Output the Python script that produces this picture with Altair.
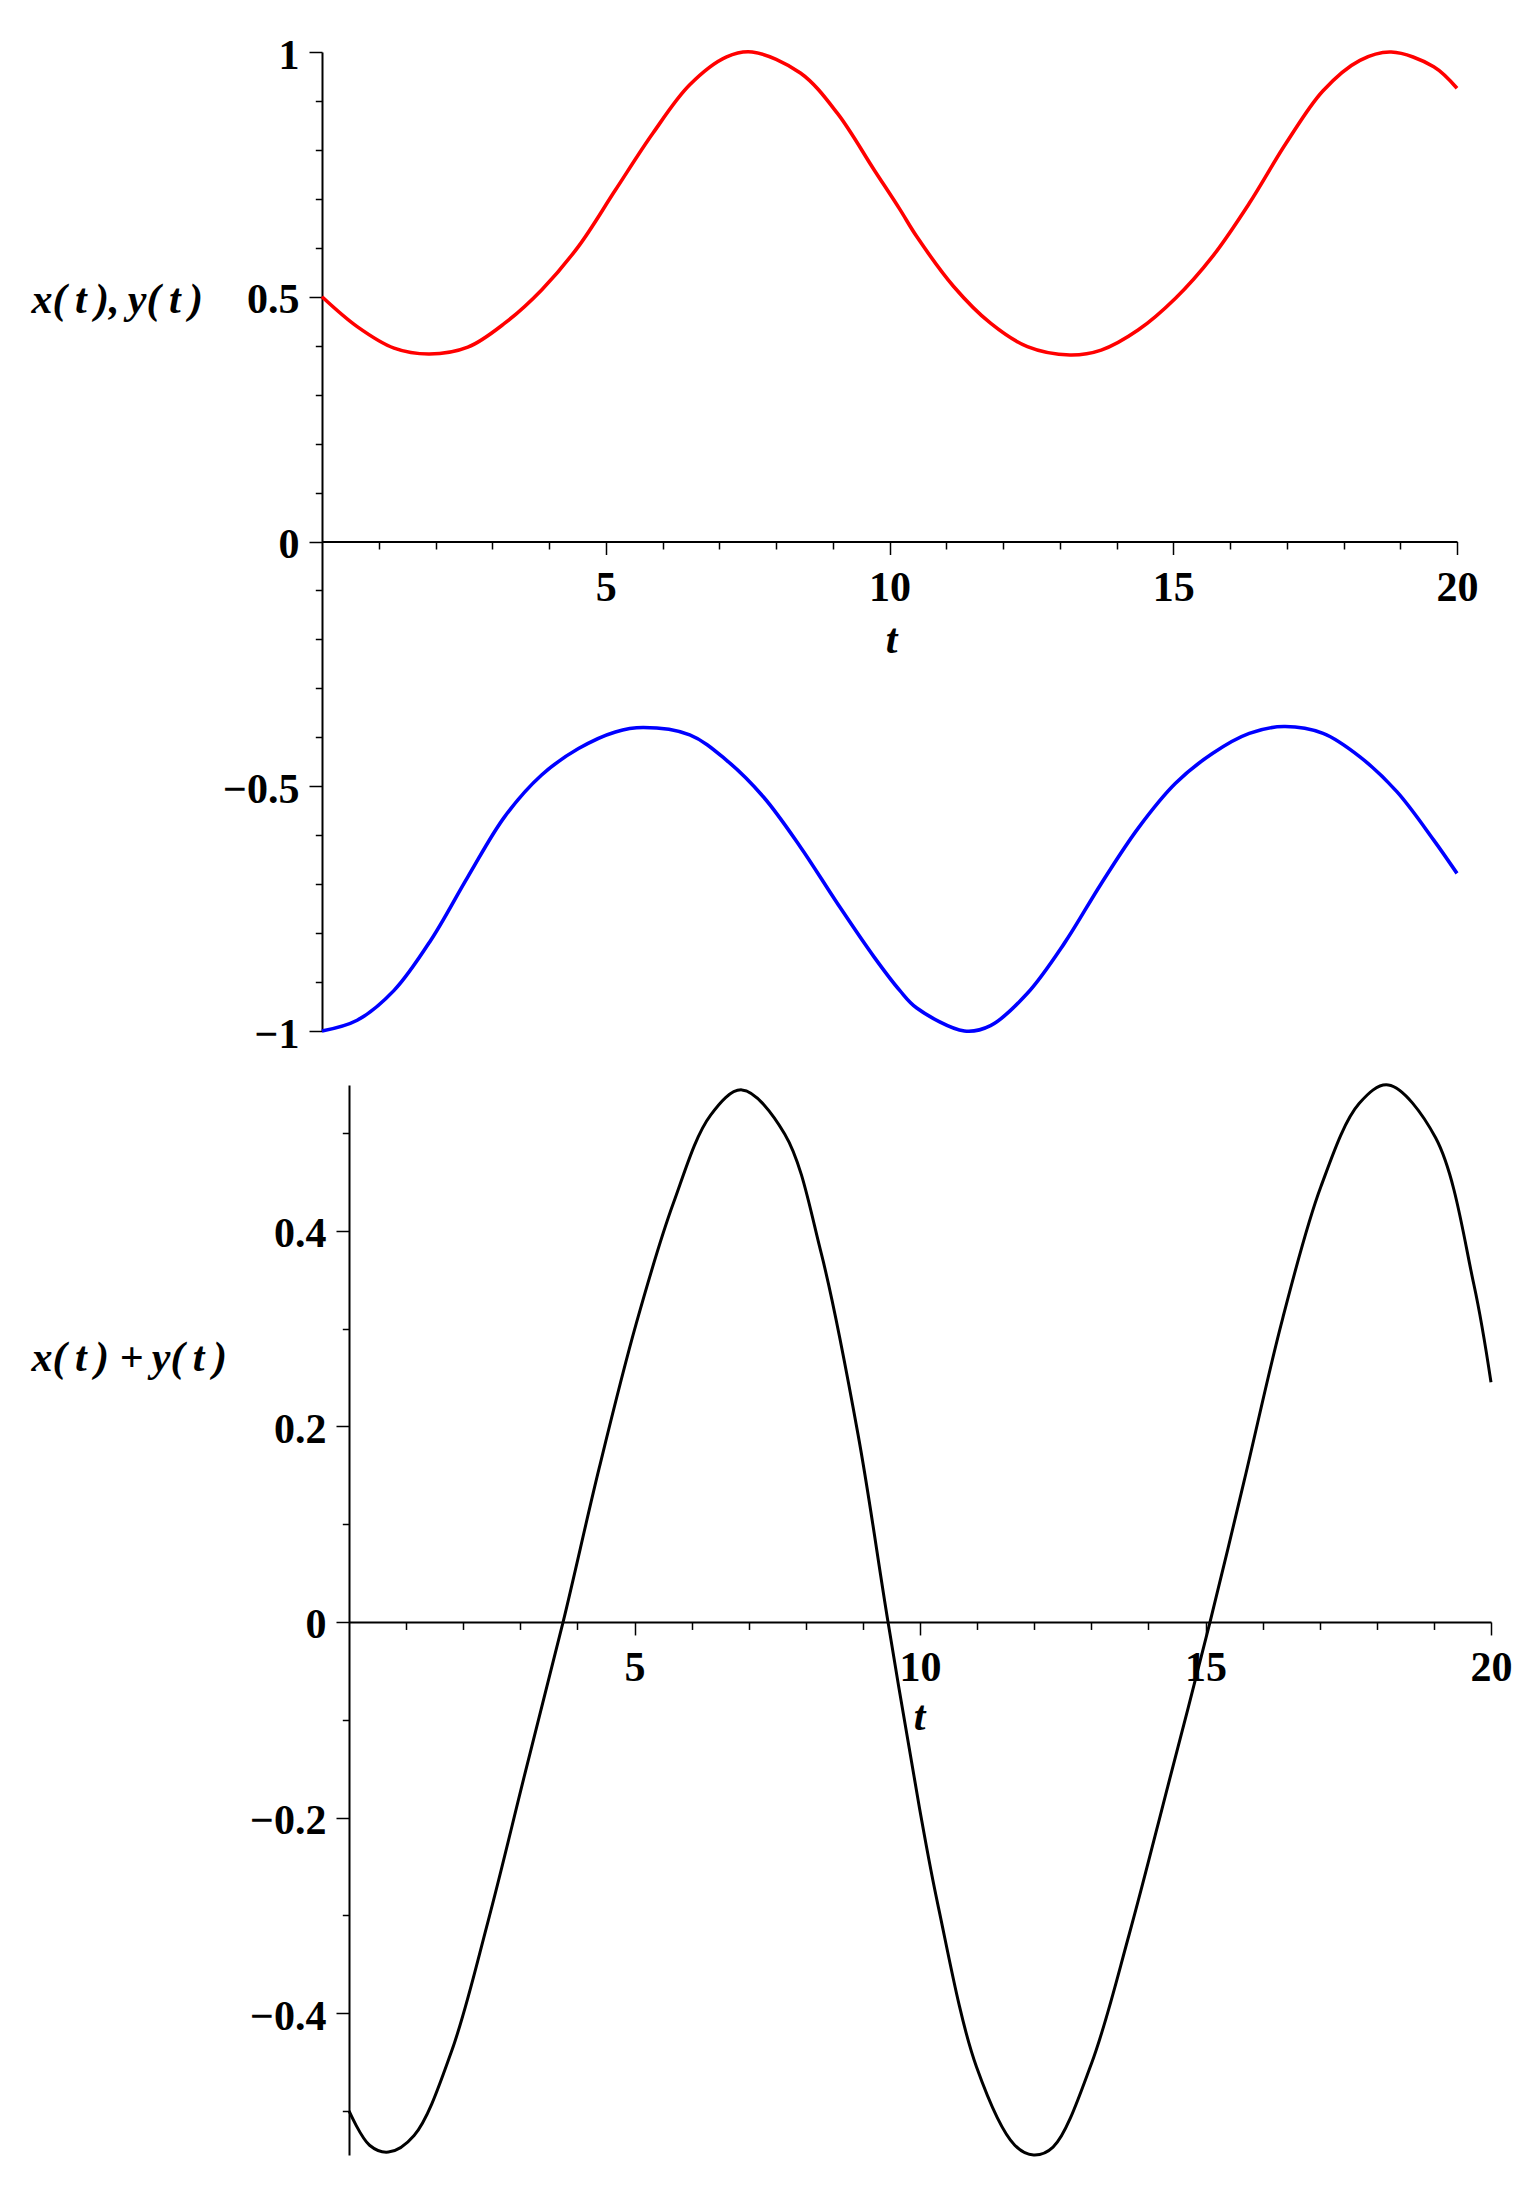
import altair as alt
import pandas as pd

# ---- data ----
# x(t) (red curve, upper panel)
t_x = [0.0, 0.62, 1.27, 1.89, 2.57, 3.22, 3.87, 4.52, 5.17, 5.83, 6.48, 7.13, 7.58, 8.43, 9.08, 9.73,
       10.18, 10.48, 11.13, 11.78, 12.43, 13.18, 13.73, 14.38, 15.04, 15.69, 16.34, 16.99, 17.64, 18.29,
       18.84, 19.59, 20.0]
x_vals = [0.500, 0.439, 0.395, 0.383, 0.397, 0.446, 0.514, 0.603, 0.718, 0.834, 0.933, 0.990, 1.000, 0.957,
          0.875, 0.759, 0.679, 0.623, 0.521, 0.446, 0.398, 0.381, 0.391, 0.432, 0.497, 0.582, 0.691, 0.814,
          0.921, 0.983, 1.000, 0.970, 0.926]

# y(t) (blue curve, upper panel)
t_y = [0.0, 0.62, 1.27, 1.92, 2.57, 3.22, 3.87, 4.52, 5.17, 5.66, 6.48, 7.13, 7.78, 8.43, 9.08, 9.73,
       10.18, 10.48, 11.32, 11.78, 12.43, 13.08, 13.73, 14.38, 15.04, 15.69, 16.34, 16.95, 17.64, 18.29,
       18.94, 19.59, 20.0]
y_vals = [-1.000, -0.978, -0.917, -0.814, -0.685, -0.562, -0.477, -0.423, -0.389, -0.380, -0.395, -0.447,
          -0.522, -0.624, -0.739, -0.849, -0.917, -0.953, -1.000, -0.989, -0.923, -0.821, -0.699, -0.586,
          -0.494, -0.433, -0.392, -0.378, -0.392, -0.440, -0.511, -0.610, -0.678]

# x(t) + y(t) (black curve, lower panel)
t_s = [0.0, 0.36, 0.69, 1.14, 1.79, 2.44, 3.09, 3.75, 4.38, 5.03, 5.68, 6.33, 6.88, 7.63, 8.27, 8.92,
       9.44, 9.99, 10.32, 10.99, 11.66, 11.99, 12.33, 13.0, 13.67, 14.34, 15.08, 15.68, 16.35, 17.02,
       17.69, 18.2, 19.03, 19.7, 20.0]
s_vals = [-0.500, -0.535, -0.542, -0.525, -0.440, -0.305, -0.153, 0.0, 0.157, 0.305, 0.428, 0.518, 0.544,
          0.499, 0.377, 0.190, 0.0, -0.190, -0.291, -0.455, -0.535, -0.545, -0.537, -0.452, -0.318, -0.168,
          0.0, 0.145, 0.310, 0.445, 0.530, 0.549, 0.495, 0.345, 0.245]

# tick values
x_major = [5, 10, 15, 20]
x_minor = [1, 2, 3, 4, 6, 7, 8, 9, 11, 12, 13, 14, 16, 17, 18, 19]
top_y_major = [-1, -0.5, 0, 0.5, 1]
top_y_minor = [-0.9, -0.8, -0.7, -0.6, -0.4, -0.3, -0.2, -0.1, 0.1, 0.2, 0.3, 0.4, 0.6, 0.7, 0.8, 0.9]
bot_y_major = [-0.4, -0.2, 0, 0.2, 0.4]
bot_y_minor = [-0.5, -0.3, -0.1, 0.1, 0.3, 0.5]

top_title = "x(\u2009t\u2009),\u2009y(\u2009t\u2009)"
bot_title = "x(\u2009t\u2009) +\u2009y(\u2009t\u2009)"

FONT = "Liberation Serif"
FS = 42
INTERP = "catmull-rom"

top_df = pd.DataFrame({
    "t": t_x + t_y,
    "v": x_vals + y_vals,
    "curve": ["x(t)"] * len(t_x) + ["y(t)"] * len(t_y),
})
bot_df = pd.DataFrame({"t": t_s, "v": s_vals})

lab = dict(labelFont=FONT, labelFontSize=FS, labelFontWeight="bold", labelColor="black",
           labelFlush=False, labelOverlap=False)
tit = dict(titleFont=FONT, titleFontSize=FS, titleFontWeight="bold", titleFontStyle="italic",
           titleColor="black", titleAngle=0, titleBaseline="middle")
tk = dict(tickColor="black", tickWidth=1.5, grid=False)

# ---------------- top panel ----------------
TOP_W, TOP_H = 1135, 979
xs_top = alt.Scale(domain=[0, 20], nice=False, zero=False)
ys_top = alt.Scale(domain=[-1, 1], nice=False, zero=False)
top_xoff = -TOP_H / 2.0

top_lines = alt.Chart(top_df).mark_line(strokeWidth=3.6, interpolate=INTERP).encode(
    x=alt.X("t:Q", scale=xs_top, title="t",
            axis=alt.Axis(orient="bottom", offset=top_xoff, values=x_major, format="~g",
                          tickSize=13, domainColor="black", domainWidth=2, labelPadding=13,
                          titleX=569, titleY=98, titleAlign="center", **tk, **lab, **tit)),
    y=alt.Y("v:Q", scale=ys_top, title=top_title,
            axis=alt.Axis(orient="left", values=top_y_major, format="~g", tickSize=13,
                          domainColor="black", domainWidth=2, labelPadding=10, labelOffset=3,
                          titleX=-291, titleY=247, titleAlign="left", **tk, **lab, **tit)),
    color=alt.Color("curve:N", scale=alt.Scale(domain=["x(t)", "y(t)"], range=["#ff0000", "#0000ff"]),
                    legend=None),
)

top_minor = alt.Chart(top_df).mark_line(strokeOpacity=0).encode(
    x=alt.X("t:Q", scale=xs_top, title=None,
            axis=alt.Axis(orient="bottom", offset=top_xoff, values=x_minor, labels=False,
                          domain=False, tickSize=7.5, **tk)),
    y=alt.Y("v:Q", scale=ys_top, title=None,
            axis=alt.Axis(orient="left", values=top_y_minor, labels=False, domain=False,
                          tickSize=6.7, **tk)),
    detail="curve:N",
)

top = alt.layer(top_minor, top_lines).resolve_axis(x="independent", y="independent").properties(
    width=TOP_W, height=TOP_H)

# ---------------- bottom panel ----------------
BOT_W, BOT_H = 1169, 1070
BOT_X0 = 27
bot_ydom = [-0.545, 0.549]
xs_bot = alt.Scale(domain=[0, 20], range=[BOT_X0, BOT_W], nice=False, zero=False)
ys_bot = alt.Scale(domain=bot_ydom, nice=False, zero=False)
bot_xoff = -(BOT_H - BOT_H * bot_ydom[1] / (bot_ydom[1] - bot_ydom[0]))

bot_line = alt.Chart(bot_df).mark_line(strokeWidth=3, interpolate=INTERP, color="black").encode(
    x=alt.X("t:Q", scale=xs_bot, title="t",
            axis=alt.Axis(orient="bottom", offset=bot_xoff, values=x_major, format="~g",
                          tickSize=13, domainColor="black", domainWidth=2, labelPadding=13,
                          titleX=597, titleY=95, titleAlign="center", **tk, **lab, **tit)),
    y=alt.Y("v:Q", scale=ys_bot, title=bot_title,
            axis=alt.Axis(orient="left", offset=-BOT_X0, values=bot_y_major, format="~g",
                          tickSize=13, domainColor="black", domainWidth=2, labelPadding=10,
                          labelOffset=3, titleX=-318, titleY=272, titleAlign="left",
                          **tk, **lab, **tit)),
)

bot_minor = alt.Chart(bot_df).mark_line(strokeOpacity=0).encode(
    x=alt.X("t:Q", scale=xs_bot, title=None,
            axis=alt.Axis(orient="bottom", offset=bot_xoff, values=x_minor, labels=False,
                          domain=False, tickSize=7.5, **tk)),
    y=alt.Y("v:Q", scale=ys_bot, title=None,
            axis=alt.Axis(orient="left", offset=-BOT_X0, values=bot_y_minor, labels=False,
                          domain=False, tickSize=6.7, **tk)),
)

bottom = alt.layer(bot_minor, bot_line).resolve_axis(x="independent", y="independent").properties(
    width=BOT_W, height=BOT_H)

chart = alt.vconcat(top, bottom, spacing=54, bounds="flush").properties(
    padding={"left": 23, "top": 26, "right": 10, "bottom": 5}
).configure_view(stroke=None)

chart.save("out.html", embed_options={"renderer": "svg", "actions": False})
